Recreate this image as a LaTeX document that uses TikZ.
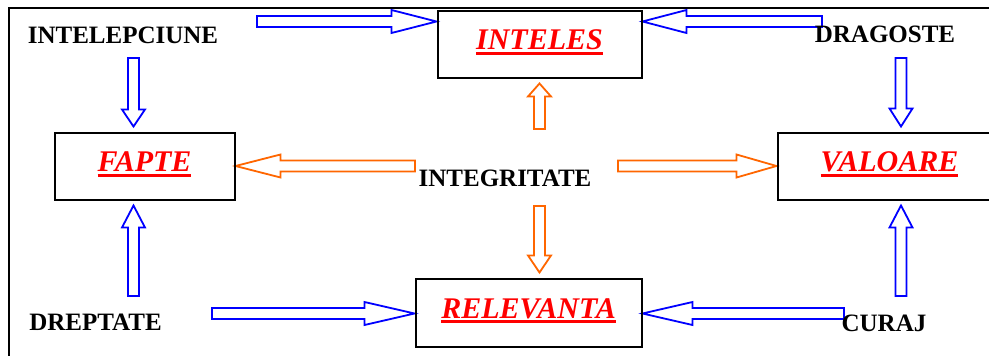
\documentclass[tikz,border=0pt]{standalone}
\usepackage{fontspec}
\setmainfont{Liberation Serif}
\usetikzlibrary{calc}

\definecolor{arrowblue}{RGB}{0,0,255}
\definecolor{arroworange}{RGB}{255,102,0}

% Subrayado grueso
\newsavebox{\ulbox}
\newcommand{\redul}[1]{\sbox{\ulbox}{#1}\usebox{\ulbox}\llap{\rule[-5pt]{\wd\ulbox}{2.8pt}}}

% Flecha de bloque: color, largo de punta, cola, punta
\newcommand{\blockarrow}[4]{%
    \pgfmathsetmacro{\rshaft}{veclen(#2,5.5)}
    \pgfmathsetmacro{\ashaft}{atan(5.5/#2)}
    \pgfmathsetmacro{\rhead}{veclen(#2,11.5)}
    \pgfmathsetmacro{\ahead}{atan(11.5/#2)}
    \draw[barrow, draw=#1] ($(#3)!5.5pt!90:(#4)$) -- ($(#4)!\rshaft pt!-\ashaft:(#3)$)
        -- ($(#4)!\rhead pt!-\ahead:(#3)$) -- (#4) -- ($(#4)!\rhead pt!\ahead:(#3)$)
        -- ($(#4)!\rshaft pt!\ashaft:(#3)$) -- ($(#3)!5.5pt!-90:(#4)$) -- cycle;
}

\begin{document}
\begin{tikzpicture}[
    x=1pt, y=-1pt,
    redbox/.style={draw=black, line width=2pt, inner sep=0pt, text=red,
        font=\fontsize{30}{36}\selectfont\bfseries\itshape, text height=20pt, text depth=9pt},
    word/.style={font=\fontsize{25}{30}\selectfont\bfseries, text=black, inner sep=0pt, anchor=base},
    barrow/.style={line width=1.8pt, fill=white, line join=miter}
]

\clip (0,0) rectangle (989,356);

% Capa de fondo para marco y flechas
\pgfdeclarelayer{background}
\pgfsetlayers{background,main}

% ==========================
% CAJAS
% ==========================
\node[redbox, minimum width=204pt, minimum height=67pt] (inteles) at (539.5,44) {\redul{INTELES}};
\node[redbox, minimum width=180pt, minimum height=67pt] (fapte) at (144.5,166) {\redul{FAPTE}};
\node[redbox, minimum width=224pt, minimum height=67pt] (valoare) at (889.5,166) {\redul{VALOARE}};
\node[redbox, minimum width=226pt, minimum height=68pt] (relevanta) at (528.5,312.5) {\redul{RELEVANTA}};

% ==========================
% VALORES
% ==========================
\node[word] (intelepciune) at (123,43) {INTELEPCIUNE};
\node[word] (dragoste) at (885,42) {DRAGOSTE};
\node[word] (integritate) at (505,186) {INTEGRITATE};
\node[word] (dreptate) at (95.5,330) {DREPTATE};
\node[word] (curaj) at (884,331) {CURAJ};

% ==========================
% EXTREMOS DE LAS FLECHAS
% ==========================
\coordinate (t1) at (257,21.5);   \coordinate (h1) at (inteles.west |- t1);
\coordinate (t2) at (822,21.5);   \coordinate (h2) at (inteles.east |- t2);
\coordinate (t3) at (133.5,58);   \coordinate (h3) at ($(fapte.north -| t3)+(0,-5)$);
\coordinate (t4) at (901,58);     \coordinate (h4) at ($(valoare.north -| t4)+(0,-5)$);
\coordinate (t5) at (133.5,296);  \coordinate (h5) at ($(fapte.south -| t5)+(0,5)$);
\coordinate (t6) at (901,296);    \coordinate (h6) at ($(valoare.south -| t6)+(0,5)$);
\coordinate (t7) at (212,313.5);  \coordinate (h7) at (relevanta.west |- t7);
\coordinate (t8) at (844,313.5);  \coordinate (h8) at (relevanta.east |- t8);
\coordinate (t9) at (539.5,129);  \coordinate (h9) at ($(inteles.south -| t9)+(0,5)$);
\coordinate (t10) at (539.5,206); \coordinate (h10) at ($(relevanta.north -| t10)+(0,-5)$);
\coordinate (t11) at (415,166);   \coordinate (h11) at (fapte.east |- t11);
\coordinate (t12) at (618,166);   \coordinate (h12) at (valoare.west |- t12);

\begin{pgfonlayer}{background}
    % marco
    \draw[line width=2pt] (9,360) -- (9,8) -- (995,8);

    % flechas
    \foreach \col/\hl/\a/\b in {
        arrowblue/45/t1/h1, arrowblue/44/t2/h2, arrowblue/17/t3/h3, arrowblue/18/t4/h4,
        arrowblue/22/t5/h5, arrowblue/22/t6/h6, arrowblue/50/t7/h7, arrowblue/50/t8/h8,
        arroworange/13/t9/h9, arroworange/17/t10/h10, arroworange/45/t11/h11, arroworange/40/t12/h12} {
        \blockarrow{\col}{\hl}{\a}{\b}
    }
\end{pgfonlayer}

\end{tikzpicture}
\end{document}
